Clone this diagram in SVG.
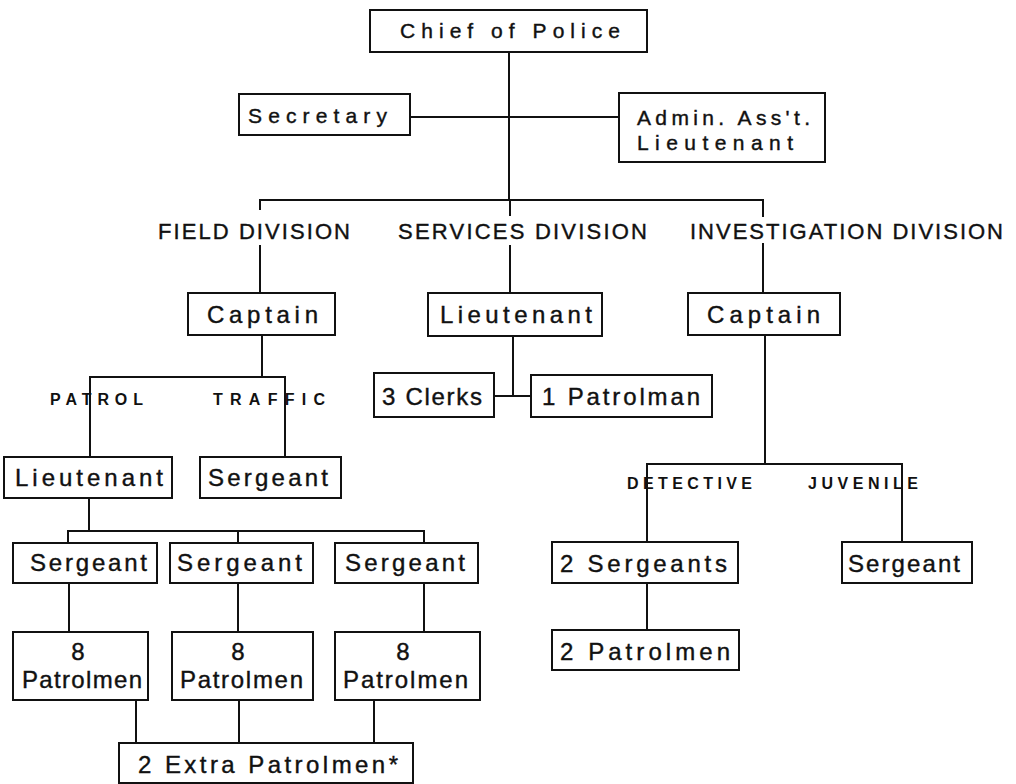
<svg xmlns="http://www.w3.org/2000/svg" width="1016" height="784" viewBox="0 0 1016 784">
<style>
.box{fill:#fff;stroke:#111;stroke-width:2}
.t{font-family:"Liberation Sans",Arial,sans-serif;font-size:24px;fill:#111;stroke:#111;stroke-width:0.4}
.c{font-family:"Liberation Sans",Arial,sans-serif;font-size:21px;fill:#111;stroke:#111;stroke-width:0.4}
.d{font-family:"Liberation Sans",Arial,sans-serif;font-size:22px;fill:#111;stroke:#111;stroke-width:0.4}
.s{font-family:"Liberation Sans",Arial,sans-serif;font-size:16px;font-weight:bold;fill:#111}
.ln{fill:none;stroke:#111;stroke-width:2}
</style>
<rect width="1016" height="784" fill="#fff"/>
<g id="connectors" class="ln">
<path d="M509 52V200"/>
<path d="M410 117H619"/>
<path d="M260 210V200H763V217"/>
<path d="M510 200V216"/>
<path d="M510 245V293"/>
<path d="M260 245V293"/>
<path d="M763 243V293"/>
<path d="M262 335V377"/>
<path d="M90 457V377H285V457"/>
<path d="M513 336V396"/>
<path d="M494 396H531"/>
<path d="M765 335V464"/>
<path d="M647 542V464H902V542"/>
<path d="M89 498V531"/>
<path d="M68 543V531H424V543"/>
<path d="M238 531V543"/>
<path d="M69 583V632"/>
<path d="M238 583V632"/>
<path d="M424 583V632"/>
<path d="M136 700V743"/>
<path d="M239 700V743"/>
<path d="M374 700V743"/>
<path d="M647 583V630"/>
</g>
<g id="labels">
<text class="d" x="158" y="239" textLength="192" lengthAdjust="spacing">FIELD DIVISION</text>
<text class="d" x="398" y="239" textLength="249" lengthAdjust="spacing">SERVICES DIVISION</text>
<text class="d" x="690" y="239" textLength="313" lengthAdjust="spacing">INVESTIGATION DIVISION</text>
<text class="s" x="50" y="405" textLength="93" lengthAdjust="spacing">PATROL</text>
<text class="s" x="213" y="405" textLength="112" lengthAdjust="spacing">TRAFFIC</text>
<text class="s" x="627" y="489" textLength="125" lengthAdjust="spacing">DETECTIVE</text>
<text class="s" x="808" y="489" textLength="110" lengthAdjust="spacing">JUVENILE</text>
</g>
<g id="chief"><rect class="box" x="370" y="10" width="277" height="42"/><text class="c" x="400" y="38" textLength="220" lengthAdjust="spacing">Chief of Police</text></g>
<g id="secretary"><rect class="box" x="239" y="94" width="171" height="41"/><text class="c" x="248" y="123" textLength="139" lengthAdjust="spacing">Secretary</text></g>
<g id="admin"><rect class="box" x="619" y="93" width="206" height="69"/><text class="c" x="637" y="125" textLength="173" lengthAdjust="spacing">Admin. Ass't.</text><text class="c" x="637" y="150" textLength="156" lengthAdjust="spacing">Lieutenant</text></g>
<g id="field-captain"><rect class="box" x="188" y="293" width="147" height="42"/><text class="t" x="207" y="323" textLength="111" lengthAdjust="spacing">Captain</text></g>
<g id="services-lieutenant"><rect class="box" x="428" y="293" width="174" height="43"/><text class="t" x="440" y="323" textLength="152" lengthAdjust="spacing">Lieutenant</text></g>
<g id="inv-captain"><rect class="box" x="688" y="293" width="152" height="42"/><text class="t" x="707" y="323" textLength="113" lengthAdjust="spacing">Captain</text></g>
<g id="clerks"><rect class="box" x="374" y="373" width="120" height="44"/><text class="t" x="382" y="405" textLength="100" lengthAdjust="spacing">3 Clerks</text></g>
<g id="patrolman1"><rect class="box" x="531" y="375" width="181" height="42"/><text class="t" x="542" y="405" textLength="158" lengthAdjust="spacing">1 Patrolman</text></g>
<g id="patrol-lieutenant"><rect class="box" x="4" y="457" width="168" height="41"/><text class="t" x="15" y="486" textLength="148" lengthAdjust="spacing">Lieutenant</text></g>
<g id="traffic-sergeant"><rect class="box" x="200" y="457" width="141" height="41"/><text class="t" x="208" y="486" textLength="120" lengthAdjust="spacing">Sergeant</text></g>
<g id="sergeant1"><rect class="box" x="13" y="543" width="144" height="40"/><text class="t" x="30" y="571" textLength="117" lengthAdjust="spacing">Sergeant</text></g>
<g id="sergeant2"><rect class="box" x="170" y="543" width="143" height="40"/><text class="t" x="177" y="571" textLength="125" lengthAdjust="spacing">Sergeant</text></g>
<g id="sergeant3"><rect class="box" x="335" y="543" width="143" height="40"/><text class="t" x="345" y="571" textLength="120" lengthAdjust="spacing">Sergeant</text></g>
<g id="patrolmen1"><rect class="box" x="13" y="632" width="135" height="68"/><text class="t" x="78" y="660" text-anchor="middle">8</text><text class="t" x="22" y="688" textLength="120" lengthAdjust="spacing">Patrolmen</text></g>
<g id="patrolmen2"><rect class="box" x="172" y="632" width="141" height="68"/><text class="t" x="238" y="660" text-anchor="middle">8</text><text class="t" x="180" y="688" textLength="123" lengthAdjust="spacing">Patrolmen</text></g>
<g id="patrolmen3"><rect class="box" x="335" y="632" width="145" height="68"/><text class="t" x="403" y="660" text-anchor="middle">8</text><text class="t" x="343" y="688" textLength="125" lengthAdjust="spacing">Patrolmen</text></g>
<g id="extra"><rect class="box" x="119" y="743" width="294" height="40"/><text class="t" x="138" y="773" textLength="260" lengthAdjust="spacing">2 Extra Patrolmen*</text></g>
<g id="det-sergeants"><rect class="box" x="552" y="542" width="186" height="41"/><text class="t" x="560" y="572" textLength="167" lengthAdjust="spacing">2 Sergeants</text></g>
<g id="juv-sergeant"><rect class="box" x="842" y="542" width="130" height="41"/><text class="t" x="848" y="572" textLength="112" lengthAdjust="spacing">Sergeant</text></g>
<g id="det-patrolmen"><rect class="box" x="552" y="630" width="187" height="40"/><text class="t" x="560" y="660" textLength="170" lengthAdjust="spacing">2 Patrolmen</text></g>
</svg>
